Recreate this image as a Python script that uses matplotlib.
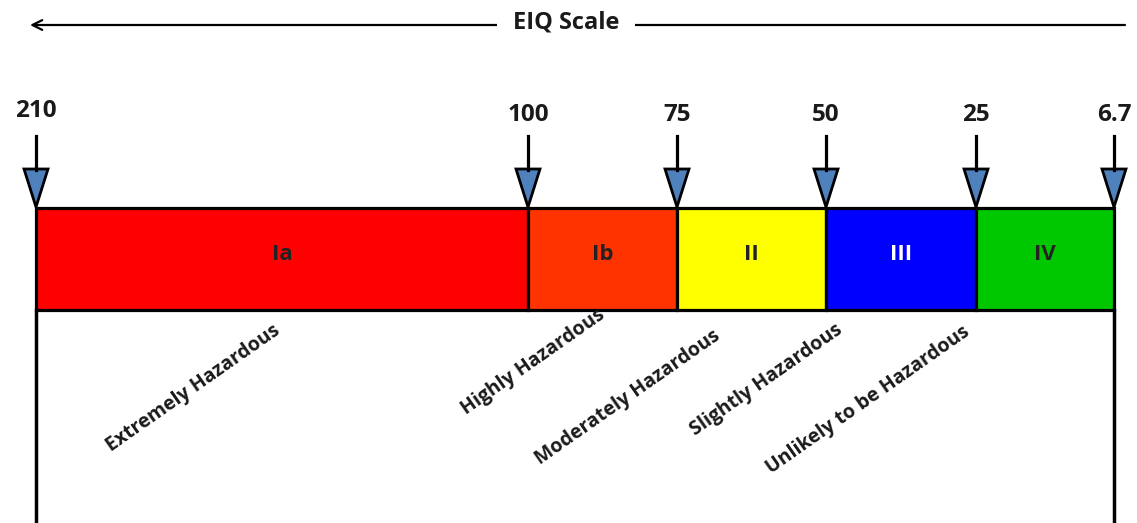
import matplotlib.pyplot as plt
from matplotlib.patches import Rectangle, Polygon

# data
boundary_labels = ['210', '100', '75', '50', '25', '6.7']
classes = ['Ia', 'Ib', 'II', 'III', 'IV']
hazards = ['Extremely Hazardous', 'Highly Hazardous', 'Moderately Hazardous',
           'Slightly Hazardous', 'Unlikely to be Hazardous']
class_colors = ['#ff0000', '#ff3300', '#ffff00', '#0000ff', '#00c800']
class_text_colors = ['#222222', '#222222', '#222222', '#ffffff', '#222222']

# layout (pixel-ish coordinates)
bx = [36, 528, 677, 826, 976, 1114]
label_y = [111, 115, 115, 115, 115, 115]
hazard_pos = [(193, 388), (533, 362), (628, 397), (766, 380), (868, 400)]

plt.rcParams['font.family'] = ['Open Sans', 'DejaVu Sans']

fig = plt.figure(figsize=(11.37, 5.23), dpi=100)
ax = fig.add_axes([0, 0, 1, 1])
ax.set_xlim(0, 1137)
ax.set_ylim(523, 0)
ax.axis('off')

# top scale arrow
ax.annotate('', xy=(30, 25), xytext=(1125, 25),
            arrowprops=dict(arrowstyle='->,head_length=0.7,head_width=0.35',
                            color='black', lw=1.6, shrinkA=0, shrinkB=0))
ax.text(566, 22, 'EIQ Scale', ha='center', va='center', fontsize=17,
        fontweight='bold', color='#1a1a1a',
        bbox=dict(facecolor='white', edgecolor='none', pad=11))

# lower white box
ax.plot([bx[0], bx[0]], [310, 530], color='black', lw=2.5)
ax.plot([bx[-1], bx[-1]], [310, 530], color='black', lw=2.5)

# colored class boxes
for i in range(len(classes)):
    ax.add_patch(Rectangle((bx[i], 208), bx[i + 1] - bx[i], 102,
                           facecolor=class_colors[i], edgecolor='black', lw=2.3))
    ax.text((bx[i] + bx[i + 1]) / 2, 255, classes[i], ha='center', va='center',
            fontsize=16, fontweight='bold', color=class_text_colors[i])

# boundary arrows and values
for x, lab, ly in zip(bx, boundary_labels, label_y):
    ax.plot([x, x], [136, 170], color='black', lw=2.3)
    ax.add_patch(Polygon([(x - 12, 169), (x + 12, 169), (x, 207)], closed=True,
                         facecolor='#4f81bd', edgecolor='black', lw=2))
    ax.text(x, ly, lab, ha='center', va='center', fontsize=17.5,
            fontweight='bold', color='#1a1a1a')

# hazard descriptions
for (hx, hy), h in zip(hazard_pos, hazards):
    ax.text(hx, hy, h, ha='center', va='center', rotation=35,
            rotation_mode='anchor', fontsize=14, fontweight='bold', color='#1a1a1a')

fig.savefig('out.png', dpi=100, facecolor='white')
